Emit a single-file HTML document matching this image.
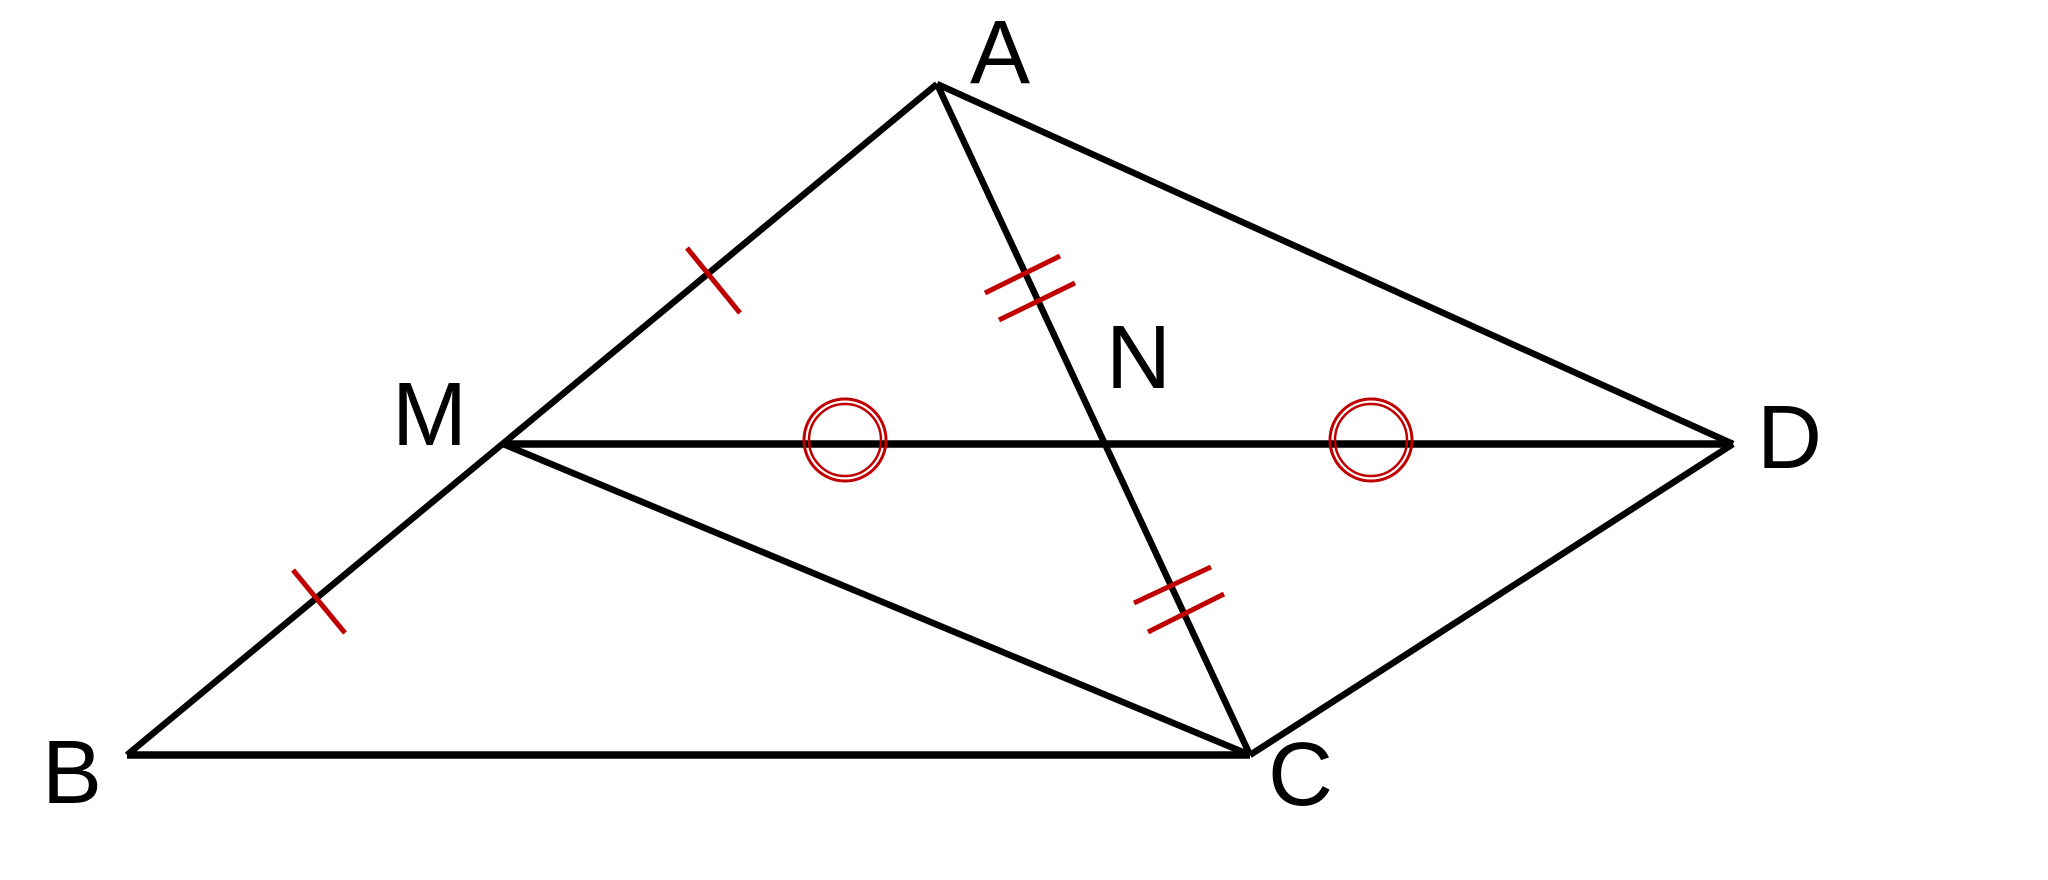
<!DOCTYPE html>
<html><head><style>body{margin:0;background:#fff}svg{display:block}</style></head>
<body>
<svg width="2048" height="880" viewBox="0 0 2048 880" xmlns="http://www.w3.org/2000/svg">
<g stroke="#000" stroke-width="6.5" fill="none" stroke-linecap="butt">
<line x1="127" y1="755" x2="937" y2="84"/>
<line x1="937" y1="84" x2="1733" y2="444"/>
<line x1="937" y1="84" x2="1250" y2="755"/>
<line x1="503" y1="444" x2="1250" y2="755"/>
<line x1="1250" y1="755" x2="1733" y2="444"/>
<line x1="127" y1="755" x2="1250" y2="755" stroke-width="7.5"/>
<line x1="503" y1="444" x2="1733" y2="444" stroke-width="7.5"/>
</g>
<g stroke="#c00000" stroke-width="5" fill="none">
<line x1="687" y1="248" x2="740" y2="313"/>
<line x1="293" y1="570" x2="345" y2="633"/>
<line x1="985" y1="293" x2="1060" y2="256"/>
<line x1="999" y1="320" x2="1075" y2="283"/>
<line x1="1134" y1="603" x2="1211" y2="567"/>
<line x1="1148" y1="632" x2="1224" y2="594"/>
<circle cx="845" cy="440" r="41" stroke-width="3"/>
<circle cx="845" cy="440" r="36" stroke-width="2.5"/>
<circle cx="1371" cy="440" r="41" stroke-width="3"/>
<circle cx="1371" cy="440" r="36" stroke-width="2.5"/>
</g>
<g font-family="Liberation Sans, sans-serif" font-size="90" fill="#000">
<text x="970" y="83">A</text>
<text x="42" y="803">B</text>
<text x="1268" y="805">C</text>
<text x="1757" y="468">D</text>
<text x="392" y="445">M</text>
<text x="1106" y="388">N</text>
</g>
</svg>
</body></html>
